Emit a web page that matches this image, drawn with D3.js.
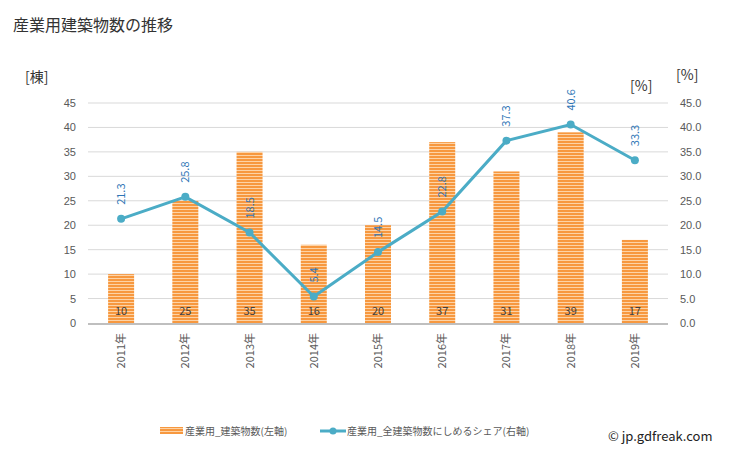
<!DOCTYPE html>
<html><head><meta charset="utf-8">
<script src="https://cdn.jsdelivr.net/npm/d3@7"></script>
<style>body{margin:0;background:#fff}svg{display:block;font-family:"Noto Sans CJK JP","Noto Sans",sans-serif}</style>
</head><body><svg id="c" width="729" height="450"></svg>
<script>
const years = ["2011年","2012年","2013年","2014年","2015年","2016年","2017年","2018年","2019年"];
const buildings = [10,25,35,16,20,37,31,39,17];
const share = [21.3,25.8,18.5,5.4,14.5,22.8,37.3,40.6,33.3];
const leftTicks = [0,5,10,15,20,25,30,35,40,45];
const rightTicks = [0,5,10,15,20,25,30,35,40,45];

const svg = d3.select("#c");
const defs = svg.append("defs");
const pat = defs.append("pattern").attr("id","stripe").attr("patternUnits","userSpaceOnUse").attr("width",4).attr("height",3);
pat.append("rect").attr("width",4).attr("height",3).attr("fill","#fdd3a6");
pat.append("rect").attr("width",4).attr("height",2).attr("fill","#f7983f");

const L=88,R=668,T=103,B=323;
const x = d3.scaleBand().domain(years).range([L+1,R-1]);
const yL = d3.scaleLinear().domain([0,45]).range([B,T]);
const yR = d3.scaleLinear().domain([0,45]).range([B,T]);

svg.append("text").attr("x",13).attr("y",31).attr("font-size",16).attr("fill","#333").text("産業用建築物数の推移");

// grid
svg.append("g").selectAll("line").data(leftTicks.filter(d=>d>0)).join("line")
 .attr("x1",L).attr("x2",R).attr("y1",d=>yL(d)).attr("y2",d=>yL(d)).attr("stroke","#d9d9d9").attr("stroke-width",1);

// left axis
const ga = svg.append("g").attr("transform",`translate(${L},0)`).call(d3.axisLeft(yL).tickValues(leftTicks).tickSize(0).tickPadding(12));
ga.select(".domain").remove();
ga.selectAll("text").attr("font-size",11).attr("fill","#595959").attr("font-family","inherit");
const gr = svg.append("g").attr("transform",`translate(${R},0)`).call(d3.axisRight(yR).tickValues(rightTicks).tickFormat(d3.format(".1f")).tickSize(0).tickPadding(12));
gr.select(".domain").remove();
gr.selectAll("text").attr("font-size",11).attr("fill","#595959").attr("font-family","inherit");

svg.append("text").attr("x",25).attr("y",82).attr("font-size",14).attr("fill","#333").text("[棟]");
svg.append("text").attr("x",676).attr("y",80).attr("font-size",14).attr("fill","#333").text("[%]");
svg.append("text").attr("x",630).attr("y",91).attr("font-size",14).attr("fill","#333").text("[%]");

// bars
const bw = 26;
svg.append("g").selectAll("rect").data(buildings).join("rect")
 .attr("x",(d,i)=>x(years[i])+x.bandwidth()/2-bw/2).attr("width",bw)
 .attr("y",d=>yL(d)).attr("height",d=>B-yL(d)).attr("fill","url(#stripe)");
svg.append("g").selectAll("text").data(buildings).join("text")
 .attr("x",(d,i)=>x(years[i])+x.bandwidth()/2).attr("y",B-8).attr("text-anchor","middle")
 .attr("font-size",11).attr("fill","#404040").text(d=>d);

// baseline
svg.append("line").attr("x1",L).attr("x2",R).attr("y1",B+1).attr("y2",B+1).attr("stroke","#bfbfbf").attr("stroke-width",2);

// x labels
svg.append("g").selectAll("text").data(years).join("text")
 .attr("transform",d=>`translate(${x(d)+x.bandwidth()/2+4},333) rotate(-90)`)
 .attr("text-anchor","end").attr("font-size",11).attr("fill","#595959").text(d=>d);

// line
const line = d3.line().x((d,i)=>x(years[i])+x.bandwidth()/2).y(d=>yR(d));
svg.append("path").datum(share).attr("d",line).attr("fill","none").attr("stroke","#4bacc6").attr("stroke-width",3);
svg.append("g").selectAll("circle").data(share).join("circle")
 .attr("cx",(d,i)=>x(years[i])+x.bandwidth()/2).attr("cy",d=>yR(d)).attr("r",4).attr("fill","#4bacc6");
svg.append("g").selectAll("text").data(share).join("text")
 .attr("transform",(d,i)=>`translate(${x(years[i])+x.bandwidth()/2+4},${yR(d)-14}) rotate(-90)`)
 .attr("font-size",11).attr("fill","#2e75b6").text(d=>d.toFixed(1));

// legend
svg.append("rect").attr("x",160).attr("y",427).attr("width",23).attr("height",7).attr("fill","url(#stripe)");
svg.append("text").attr("x",185).attr("y",435).attr("font-size",10).attr("fill","#595959").text("産業用_建築物数(左軸)");
svg.append("line").attr("x1",320).attr("x2",346).attr("y1",431).attr("y2",431).attr("stroke","#4bacc6").attr("stroke-width",3);
svg.append("circle").attr("cx",333).attr("cy",431).attr("r",3.5).attr("fill","#4bacc6");
svg.append("text").attr("x",347).attr("y",435).attr("font-size",10).attr("fill","#595959").text("産業用_全建築物数にしめるシェア(右軸)");
svg.append("text").attr("x",608).attr("y",441).attr("font-size",13).attr("fill","#222").text("© jp.gdfreak.com");
</script></body></html>
